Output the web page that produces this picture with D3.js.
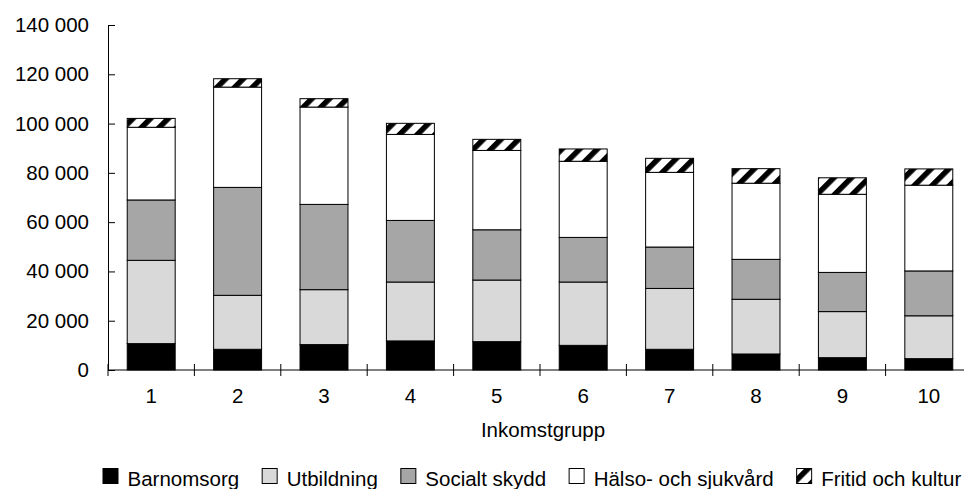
<!DOCTYPE html>
<html>
<head>
<meta charset="utf-8">
<script src="https://cdn.jsdelivr.net/npm/d3@7"></script>
<style>
  html, body { margin: 0; padding: 0; background: #fff; overflow: hidden; }
  svg { display: block; font-family: "Liberation Sans", Arial, sans-serif; }
</style>
</head>
<body>
<svg id="chart" width="964" height="489"></svg>
<script>
// ---- Data ----
const categories = ["1", "2", "3", "4", "5", "6", "7", "8", "9", "10"];
const seriesNames = ["Barnomsorg", "Utbildning", "Socialt skydd", "Hälso- och sjukvård", "Fritid och kultur"];
const barnomsorg = [10700, 8400, 10300, 11800, 11500, 10000, 8400, 6500, 5000, 4600];
const utbildning = [33800, 21900, 22300, 23900, 25000, 25700, 24700, 22200, 18700, 17400];
const socialtSkydd = [24500, 43800, 34600, 25000, 20400, 18100, 16800, 16200, 15900, 18200];
const halsoSjukvard = [29500, 40700, 39500, 34900, 32200, 30900, 30300, 30900, 31700, 34800];
const fritidKultur = [3600, 3400, 3400, 4500, 4500, 5000, 5700, 5900, 6700, 6600];
const yTicks = [0, 20000, 40000, 60000, 80000, 100000, 120000, 140000];
const xTitle = "Inkomstgrupp";

const seriesValues = [barnomsorg, utbildning, socialtSkydd, halsoSjukvard, fritidKultur];
const fills = ["#000000", "#d9d9d9", "#a6a6a6", "#ffffff", "url(#hatch)"];

// ---- Layout ----
const svg = d3.select("#chart");
const plotLeft = 108, plotRight = 972, plotTop = 25, plotBottom = 370;
const FS = 20.5;

const rows = categories.map((c, i) => {
  const r = { cat: c };
  seriesNames.forEach((s, k) => r[s] = seriesValues[k][i]);
  return r;
});
const stacked = d3.stack().keys(seriesNames)(rows);

const p = 0.445;
const x = d3.scaleBand().domain(categories).range([plotLeft, plotRight]).paddingInner(p).paddingOuter(p / 2);
const y = d3.scaleLinear().domain([0, 140000]).range([plotBottom, plotTop]);

// hatch pattern
const defs = svg.append("defs");
const pat = defs.append("pattern")
  .attr("id", "hatch")
  .attr("patternUnits", "userSpaceOnUse")
  .attr("width", 12.5).attr("height", 12.5)
  .attr("patternTransform", "rotate(45)");
pat.append("rect").attr("width", 12.5).attr("height", 12.5).attr("fill", "#fff");
pat.append("rect").attr("x", 0).attr("width", 5.5).attr("height", 12.5).attr("fill", "#000");

// bars
svg.append("g").selectAll("g")
  .data(stacked)
  .join("g")
  .attr("fill", (d, i) => fills[i])
  .selectAll("rect")
  .data(d => d)
  .join("rect")
  .attr("x", d => x(d.data.cat))
  .attr("width", x.bandwidth())
  .attr("y", d => y(d[1]))
  .attr("height", d => y(d[0]) - y(d[1]))
  .attr("stroke", "#000")
  .attr("stroke-width", 1);

// y axis
const loc = d3.formatLocale({ decimal: ",", thousands: " ", grouping: [3], currency: ["", " kr"] });
const yAxis = d3.axisLeft(y).tickValues(yTicks).tickFormat(loc.format(",d"))
  .tickSizeInner(-7).tickSizeOuter(0).tickPadding(19);
const gy = svg.append("g").attr("transform", `translate(${plotLeft},0)`).call(yAxis);
gy.selectAll("text").attr("font-size", FS).attr("fill", "#000").attr("font-family", "Liberation Sans, Arial, sans-serif");
gy.selectAll("line, path").attr("stroke", "#000");

// x axis
const gx = svg.append("g");
gx.append("line").attr("x1", plotLeft).attr("x2", plotRight).attr("y1", plotBottom).attr("y2", plotBottom).attr("stroke", "#000");
const boundaries = d3.range(categories.length + 1).map(i => plotLeft + i * x.step());
gx.selectAll("line.tick").data(boundaries).join("line").attr("class", "tick")
  .attr("x1", d => d).attr("x2", d => d).attr("y1", plotBottom - 6).attr("y2", plotBottom + 6).attr("stroke", "#000");
gx.selectAll("text").data(categories).join("text")
  .attr("x", d => x(d) + x.bandwidth() / 2)
  .attr("y", 403)
  .attr("text-anchor", "middle")
  .attr("font-size", FS)
  .text(d => d);

svg.append("text").attr("x", 543).attr("y", 437).attr("text-anchor", "middle")
  .attr("font-size", FS).text(xTitle);

// legend
const lg = svg.append("g");
let lx = 103;
seriesNames.forEach((s, i) => {
  lg.append("rect").attr("x", lx).attr("y", 468.5).attr("width", 15).attr("height", 15)
    .attr("fill", fills[i]).attr("stroke", "#000").attr("stroke-width", 1);
  const t = lg.append("text").attr("x", lx + 24.5).attr("y", 486).attr("font-size", FS).text(s);
  lx = lx + 24.5 + t.node().getComputedTextLength() + 23;
});
</script>
</body>
</html>
